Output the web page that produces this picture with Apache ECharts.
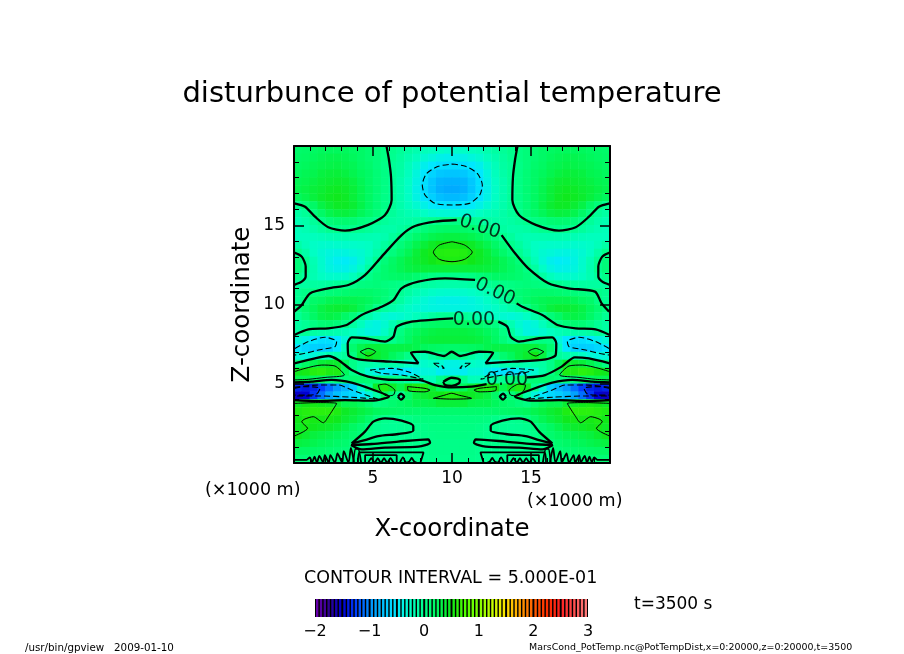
<!DOCTYPE html>
<html><head><meta charset="utf-8">
<style>html,body{margin:0;padding:0;background:#fff}#c{width:904px;height:654px}</style>
<script src="https://cdn.jsdelivr.net/npm/echarts@6/dist/echarts.min.js"></script>
</head><body><div id="c"></div>
<script>
// Field: rows from z=19.75 km down to z=0.25 km, columns x=0.25..9.75 km (right half mirrors)
const heatRows = [
[.18,.2,.22,.25,.25,.25,.25,.22,.2,.15,.1,.05,0,-.05,-.1,-.15,-.2,-.22,-.25,-.28],
[.2,.22,.25,.28,.3,.3,.28,.25,.2,.15,.1,.05,-.02,-.08,-.15,-.22,-.3,-.35,-.4,-.42],
[.22,.25,.28,.3,.32,.33,.3,.28,.22,.17,.1,.03,-.05,-.1,-.2,-.3,-.42,-.5,-.55,-.56],
[.25,.28,.3,.35,.37,.38,.35,.3,.25,.2,.12,.04,-.05,-.12,-.22,-.35,-.5,-.62,-.7,-.72],
[.28,.3,.34,.38,.4,.42,.4,.35,.28,.2,.12,.04,-.06,-.15,-.25,-.38,-.55,-.7,-.8,-.82],
[.3,.33,.37,.4,.44,.46,.43,.38,.3,.22,.13,.04,-.06,-.15,-.26,-.4,-.56,-.72,-.83,-.86],
[.25,.3,.36,.42,.46,.48,.45,.38,.3,.22,.12,.03,-.06,-.15,-.25,-.38,-.52,-.65,-.75,-.78],
[-.02,.1,.2,.33,.4,.45,.45,.4,.32,.22,.12,.03,-.05,-.14,-.22,-.3,-.4,-.48,-.52,-.53],
[-.1,-.05,.08,.2,.3,.35,.36,.33,.26,.18,.1,0,-.06,-.12,-.17,-.2,-.25,-.3,-.32,-.33],
[-.17,-.13,-.06,.02,.1,.14,.15,.13,.08,.04,-.01,-.06,-.1,-.12,-.12,-.1,-.06,-.02,.02,.04],
[-.2,-.17,-.13,-.07,-.02,.01,.02,.01,-.01,-.05,-.1,-.12,-.13,-.09,-.03,.03,.1,.15,.18,.2],
[-.22,-.22,-.22,-.2,-.18,-.16,-.15,-.15,-.16,-.17,-.18,-.15,-.07,0,.08,.17,.25,.3,.33,.35],
[-.12,-.2,-.26,-.28,-.29,-.28,-.27,-.27,-.26,-.24,-.17,-.08,0,.1,.2,.3,.38,.45,.5,.52],
[0,-.12,-.25,-.31,-.35,-.37,-.36,-.33,-.3,-.24,-.13,-.02,.08,.18,.28,.38,.46,.52,.57,.58],
[.1,-.02,-.18,-.29,-.38,-.44,-.46,-.42,-.33,-.19,-.03,.1,.2,.28,.35,.4,.45,.5,.54,.55],
[.1,0,-.16,-.28,-.36,-.4,-.41,-.36,-.26,-.09,.05,.15,.22,.28,.33,.36,.38,.38,.38,.38],
[.02,-.07,-.17,-.24,-.28,-.28,-.27,-.21,-.1,.02,.1,.15,.18,.2,.2,.15,.1,.05,.02,.02],
[-.08,-.09,-.09,-.09,-.07,-.05,-.02,.02,.06,.08,.1,.08,.05,.03,0,-.05,-.08,-.1,-.12,-.13],
[-.02,.02,.05,.08,.1,.12,.15,.17,.18,.18,.15,.12,.05,-.03,-.1,-.17,-.22,-.26,-.28,-.29],
[-.03,.05,.18,.22,.28,.3,.3,.3,.28,.25,.18,.1,0,-.09,-.19,-.26,-.32,-.36,-.39,-.4],
[.05,.15,.25,.33,.38,.4,.4,.36,.28,.18,.02,-.07,-.13,-.19,-.26,-.3,-.34,-.36,-.37,-.37],
[-.03,.08,.2,.3,.33,.3,.2,.1,-.04,-.13,-.24,-.3,-.33,-.3,-.26,-.21,-.15,-.09,-.04,-.03],
[-.1,-.04,.05,.12,.14,.1,.02,-.09,-.21,-.33,-.37,-.3,-.17,-.04,.06,.12,.17,.2,.22,.23],
[-.09,-.04,-.1,-.13,-.13,-.15,-.19,-.24,-.3,-.37,-.37,-.26,-.09,.05,.18,.25,.3,.33,.35,.35],
[-.32,-.4,-.5,-.55,-.55,-.5,-.33,.02,.05,.03,0,-.04,0,.1,.22,.3,.35,.37,.38,.38],
[-.5,-.6,-.65,-.66,-.63,-.5,-.2,.15,.3,.38,.38,.35,.33,.33,.33,.3,.25,.22,.2,.18],
[-.33,-.36,-.33,-.26,-.18,-.13,-.07,.05,.35,.5,.42,.35,.25,.15,.02,-.1,-.17,-.09,0,.05],
[.05,.2,.3,.38,.42,.42,.25,.02,-.1,-.12,-.15,-.12,-.12,-.15,-.25,-.28,-.28,-.25,-.3,-.38],
[.48,.52,.58,.6,.55,.55,.25,.02,-.12,-.3,-.4,-.5,-.55,-.55,-.5,-.42,-.35,-.35,-.45,-.42],
[.3,.3,.25,.2,.05,.08,.1,.15,.15,.12,.1,.08,.05,-.02,-.1,-.15,-.2,-.2,0,.1],
[-1.35,-1.4,-1.35,-1.25,-1.1,-.95,-.8,-.65,-.3,-.02,.45,.55,.45,.3,.5,.55,.55,.4,.25,.2],
[-1.55,-1.5,-1.3,-1.1,-.9,-.75,-.65,-.6,-.5,-.35,-.12,.25,.1,-.05,.2,.35,.4,.45,.5,.55],
[.45,.5,.52,.48,.45,.4,.3,.3,.25,.15,.05,.1,.15,.2,.25,.3,.3,.32,.38,.38],
[.55,.58,.6,.6,.6,.55,.45,.4,.35,.3,.25,.22,.2,.18,.17,.16,.16,.16,.16,.16],
[.5,.55,.52,.52,.52,.48,.4,.35,.28,.18,.08,0,-.02,-.01,.02,.06,.08,.08,.08,.08],
[.45,.52,.48,.45,.42,.38,.3,.22,.14,.05,-.01,-.03,-.04,-.03,-.02,0,.03,.05,.05,.05],
[.48,.42,.36,.33,.3,.27,.22,.16,.1,.02,-.02,-.03,-.03,-.03,-.02,-.01,.02,.03,.04,.04],
[.35,.33,.3,.27,.24,.2,.16,.1,.03,0,.02,.03,.02,.02,0,0,0,.02,.02,.02],
[.22,.22,.2,.18,.16,.13,.1,.05,0,-.02,-.03,-.03,-.03,-.03,-.03,-.02,0,.02,.02,.02],
[.12,.12,.1,.08,.07,.05,.02,0,-.02,-.03,-.03,-.03,-.03,-.03,-.03,-.02,-.01,.01,.01,.01]
];
// Zero contours (thick) — left half, mirrored at build time
const zeroMirrored = [
[[5.86,19.96],[6.01,19.13],[6.14,18.06],[6.18,16.59],[5.76,15.65],[4.7,15.02],[3.23,14.66],[2.17,14.87],[1.33,15.54],[.7,16.17],[.02,16.38]],
[[.02,13.27],[.49,13.02],[.74,12.39],[.74,11.76],[.49,11.44],[.02,11.24]],
[[.02,5.09],[1.12,5.13],[2.38,5.24],[3.65,5.07],[4.92,4.65],[6.01,4.19],[4.92,3.93],[3.23,3.97],[1.54,3.91],[.02,3.97]],
[[6.58,4.19],[6.77,4.38],[6.97,4.19],[6.77,4.0],[6.58,4.19]],
[[3.65,1.24],[4.49,1.98],[5.02,2.61],[5.76,2.82],[6.81,2.67],[7.55,2.33],[7.55,2.04],[6.6,1.83],[5.34,1.7],[4.49,1.45],[3.65,1.24]],
[[3.61,1.14],[4.92,1.2],[6.6,1.35],[8.5,1.49],[8.61,1.28],[7.87,1.03],[5.76,.97],[4.28,.86],[3.61,1.14]]
];
// Zero contours crossing the centre, broken where their labels sit
const zeroCentral = [
[[.02,9.55],[.49,9.97],[1.01,10.7],[2.17,11.02],[3.44,11.23],[4.49,11.86],[5.55,13.02],[6.81,14.38],[7.66,14.95],[8.92,15.23],[10.3,15.33]],
[[13.14,14.38],[13.99,13.23],[14.83,12.28],[16.1,11.34],[17.36,11.02],[19.05,10.81],[19.47,10.07],[19.94,9.55]],
[[.02,8.08],[.91,8.43],[2.17,8.5],[3.33,8.71],[4.28,9.34],[5.55,9.86],[6.29,10.28],[6.81,11.02],[7.87,11.44],[9.56,11.65],[11.46,11.55]],
[[14.09,10.07],[14.45,9.86],[15.72,9.34],[16.67,8.71],[17.83,8.5],[19.09,8.43],[19.98,8.08]],
[[10.08,9.13],[8.5,9.02],[7.45,8.92],[6.5,8.6],[6.29,7.97],[5.76,7.66],[4.49,7.87],[3.65,7.93],[3.4,7.55],[3.44,6.81],[4.07,6.54],[6.18,6.39],[7.87,6.29],[7.41,6.96],[8.3,7.02],[9.5,6.75],[9.98,7.02],[10.5,6.75],[11.7,7.02],[12.6,6.96],[12.13,6.29],[13.82,6.39],[15.93,6.54],[16.56,6.81],[16.6,7.55],[16.35,7.93],[15.51,7.87],[14.24,7.66],[13.71,7.97],[13.5,8.6],[12.93,8.92]],
[[.02,6.29],[1.33,6.6],[2.17,6.75],[2.81,6.5],[3.65,5.87],[4.7,5.45],[6.39,5.24],[7.87,5.24],[8.92,4.92],[9.98,4.77],[11.24,4.82],[12.19,4.98]],
[[14.73,5.4],[15.89,5.55],[16.94,6.08],[17.78,6.67],[18.67,6.6],[19.98,6.29]],
[[9.45,5.13],[9.98,5.38],[10.5,5.24],[10.44,5.03],[9.98,4.86],[9.56,4.92],[9.45,5.13]]
];
// Noise of zero contours along the ground — left half, mirrored
const groundComb = [
[[.02,.2],[.8,.2],[1.0,.35],[1.15,.05],[1.3,.4],[1.45,.02],[1.6,.45],[1.85,.02],[1.95,.5],[2.2,.02],[2.3,.5],[2.6,.02],[2.75,.6],[3.05,.02],[3.15,.75],[3.45,.02],[3.6,.95],[3.8,.02]],
[[3.75,.02],[3.9,.9],[4.05,.9],[4.25,.02]],
[[4.05,.02],[4.15,.67],[8.2,.67],[8.0,.02]],
[[4.5,.02],[4.5,.5],[6.5,.5],[6.5,.02]],
[[4.7,.02],[4.9,.3],[5.1,.02],[5.3,.3],[5.5,.02],[5.7,.3],[5.9,.02],[6.1,.3],[6.3,.02]],
[[6.7,.02],[6.9,.35],[7.1,.02],[7.3,.1],[7.45,.32],[7.6,.1],[7.75,.02]]
];
// +0.5 contours (thin)
const posMirrored = [
[[.02,5.76],[.7,5.97],[1.75,6.18],[2.59,6.12],[3.19,5.55],[1.96,5.4],[.91,5.28],[.02,5.24]],
[[4.18,7.02],[4.7,7.23],[5.17,7.02],[4.7,6.75],[4.18,7.02]],
[[5.34,4.92],[5.76,4.98],[6.39,4.56],[6.29,4.29],[5.86,4.23],[5.44,4.6],[5.34,4.92]],
[[7.19,4.82],[8.29,4.71],[8.61,4.6],[8.29,4.49],[7.24,4.56],[7.19,4.82]],
[[.02,3.76],[1.54,3.81],[2.7,3.76],[2.17,2.92],[1.86,2.54],[1.22,2.92],[.7,2.78],[.49,2.61],[.86,2.19],[.02,1.7]]
];
const posCentral = [
[[10,13.96],[10.8,13.75],[11.28,13.3],[10.8,12.85],[10,12.7],[9.2,12.85],[8.82,13.3],[9.2,13.75],[10,13.96]],
[[8.82,4.08],[9.56,4.29],[9.98,4.4],[10.4,4.29],[11.24,4.08],[9.98,4.03],[8.82,4.08]]
];
// Negative contours (dashed)
const negMirrored = [
[[.06,7.23],[.91,7.66],[1.96,7.93],[2.7,7.66],[2.59,7.34],[1.54,7.13],[.7,6.92],[.06,6.81]],
[[4.81,5.87],[6.18,5.97],[7.24,5.76],[8.19,5.28],[6.81,5.55],[5.55,5.66],[4.81,5.87]],
[[8.82,6.29],[9.14,6.29],[9.51,5.97],[9.14,6.08],[8.82,6.29]],
[[.02,4.77],[1.54,4.92],[2.81,4.92],[3.65,4.61],[5.34,4.02],[3.65,4.15],[1.54,4.23],[.02,4.23]],
[[.02,4.71],[.7,4.82],[1.65,4.71],[1.43,4.35],[.7,4.28],[.02,4.28]]
];
const negCentral = [
[[10,18.86],[10.85,18.72],[11.6,18.27],[11.92,17.54],[11.75,16.9],[11.1,16.38],[10,16.28],[8.92,16.38],[8.29,16.91],[8.12,17.54],[8.4,18.27],[9.14,18.72],[10,18.86]]
];
const contourLabels = [[11.77,14.89,-18],[12.72,10.79,-25],[11.39,9.02,0],[13.48,5.24,0]];
// Colour bar
const barLevels = [-1.96,-1.89,-1.82,-1.75,-1.68,-1.61,-1.54,-1.46,-1.39,-1.32,-1.25,-1.18,-1.11,-1.04,-.96,-.89,-.82,-.75,-.68,-.61,-.54,-.46,-.39,-.32,-.25,-.18,-.11,-.04,.04,.11,.18,.25,.32,.39,.46,.54,.61,.68,.75,.82,.89,.96,1.04,1.11,1.18,1.25,1.32,1.39,1.46,1.54,1.61,1.68,1.75,1.82,1.89,1.96,2.04,2.11,2.18,2.25,2.32,2.39,2.46,2.54,2.61,2.68,2.75,2.82,2.89,2.96];
const rainbow = ['#7000b0','#300090','#0000d0','#0040ff','#0090ff','#00c0ff','#00e8ff','#00ffc4','#00ff8c','#00f85c','#10e818','#50ff00','#80ff00','#c8ff00','#ffe000','#ffa000','#ff6000','#ff3000','#ff2020','#ff5050','#ff8080'];

const FONT = '"DejaVu Sans"';
const mirror = c => c.map(p => [20 - p[0], p[1]]);
const heatData = [];
heatRows.forEach((row, r) => {
  for (let i = 0; i < 40; i++) heatData.push([i, 39 - r, i < 20 ? row[i] : row[39 - i]]);
});
const cats = Array.from({length: 40}, (_, i) => i);
const contourSeries = (list, width, type) => list.map(c => ({
  type: 'line', xAxisIndex: 0, yAxisIndex: 0, data: c, showSymbol: false, symbol: 'none', smooth: 0.25,
  lineStyle: {color: '#000', width, type}, z: 3, silent: true, animation: false
}));
const withMirror = l => l.flatMap(c => [c, mirror(c)]);
const series = [
  {type: 'heatmap', xAxisIndex: 2, yAxisIndex: 2, data: heatData, z: 1, silent: true, animation: false, progressive: 0},
  {type: 'bar', xAxisIndex: 3, yAxisIndex: 3, data: barLevels.map(v => [v, 1]), barWidth: 2.4, z: 2, silent: true, animation: false},
  ...contourSeries([...withMirror(zeroMirrored), ...zeroCentral], 2.3, 'solid'),
  ...contourSeries(withMirror(groundComb), 1.8, 'solid'),
  ...contourSeries([...withMirror(posMirrored), ...posCentral], 1, 'solid'),
  ...contourSeries([...withMirror(negMirrored), ...negCentral], 1.1, [6, 3]),
  ...contourLabels.map(l => ({
    type: 'scatter', xAxisIndex: 0, yAxisIndex: 0, data: [[l[0], l[1]]], symbolSize: 0, z: 5, silent: true, animation: false,
    label: {show: true, position: 'inside', formatter: '0.00', rotate: l[2], fontFamily: FONT, fontSize: 19, color: '#000'}
  }))
];
const frameAxis = (extra) => Object.assign({
  type: 'value', min: 0, max: 20, interval: 5, gridIndex: 0, z: 10, silent: true,
  axisLine: {show: true, onZero: false, lineStyle: {color: '#000', width: 2}},
  axisTick: {show: true, inside: true, length: 10, lineStyle: {color: '#000', width: 1.5}},
  minorTick: {show: true, splitNumber: 5, length: 5, lineStyle: {color: '#000', width: 1}},
  splitLine: {show: false}, minorSplitLine: {show: false},
  axisLabel: {show: false}
}, extra);
const tickLabel = {show: true, showMinLabel: false, showMaxLabel: false, color: '#000', fontFamily: FONT, fontSize: 17};
const option = {
  animation: false,
  backgroundColor: '#fff',
  title: {text: 'disturbunce of potential temperature', left: 447, top: 75, textAlign: 'center',
    textStyle: {fontFamily: FONT, fontWeight: 'normal', fontSize: 29, color: '#000'}},
  grid: [
    {left: 294, top: 146, width: 316, height: 317, containLabel: false},
    {left: 315, top: 599, width: 273, height: 18, show: true, backgroundColor: '#000', borderWidth: 0}
  ],
  xAxis: [
    frameAxis({position: 'bottom', axisLabel: Object.assign({}, tickLabel, {margin: 7}),
      name: 'X-coordinate', nameLocation: 'middle', nameGap: 54, nameTextStyle: {fontFamily: FONT, fontSize: 24.5, color: '#000'}}),
    frameAxis({position: 'top'}),
    {type: 'category', data: cats, gridIndex: 0, show: false},
    {type: 'value', gridIndex: 1, min: -2, max: 3, interval: 1, position: 'bottom', silent: true,
      axisLine: {show: false}, axisTick: {show: false}, splitLine: {show: false},
      axisLabel: {color: '#000', fontFamily: FONT, fontSize: 16, margin: 7, formatter: v => String(v).replace('-', '\u2212')}}
  ],
  yAxis: [
    frameAxis({position: 'left', axisLabel: Object.assign({}, tickLabel, {margin: 9}),
      name: 'Z-coordinate', nameLocation: 'middle', nameGap: 39, nameRotate: 90, nameTextStyle: {fontFamily: FONT, fontSize: 24.5, color: '#000'}}),
    frameAxis({position: 'right'}),
    {type: 'category', data: cats, gridIndex: 0, show: false},
    {type: 'value', gridIndex: 1, min: 0, max: 1, show: false}
  ],
  visualMap: [
    {type: 'continuous', show: false, seriesIndex: 0, dimension: 2, min: -2, max: 3, inRange: {color: rainbow}},
    {type: 'continuous', show: false, seriesIndex: 1, dimension: 0, min: -2, max: 3, inRange: {color: rainbow}}
  ],
  graphic: [
    {type: 'text', left: 205, top: 481, silent: true, style: {text: '(\u00d71000 m)', font: '17.5px ' + FONT, fill: '#000'}},
    {type: 'text', left: 527, top: 492, silent: true, style: {text: '(\u00d71000 m)', font: '17.5px ' + FONT, fill: '#000'}},
    {type: 'text', left: 304, top: 569, silent: true, style: {text: 'CONTOUR INTERVAL = 5.000E-01', font: '17.5px ' + FONT, fill: '#000'}},
    {type: 'text', left: 634, top: 596, silent: true, style: {text: 't=3500 s', font: '17px ' + FONT, fill: '#000'}},
    {type: 'text', left: 25, top: 643, silent: true, style: {text: '/usr/bin/gpview   2009-01-10', font: '10.3px ' + FONT, fill: '#000'}},
    {type: 'text', left: 529, top: 643, silent: true, style: {text: 'MarsCond_PotTemp.nc@PotTempDist,x=0:20000,z=0:20000,t=3500', font: '9.45px ' + FONT, fill: '#000'}}
  ],
  series
};
const chart = echarts.init(document.getElementById('c'), null, {renderer: 'canvas'});
chart.setOption(option);
</script></body></html>
